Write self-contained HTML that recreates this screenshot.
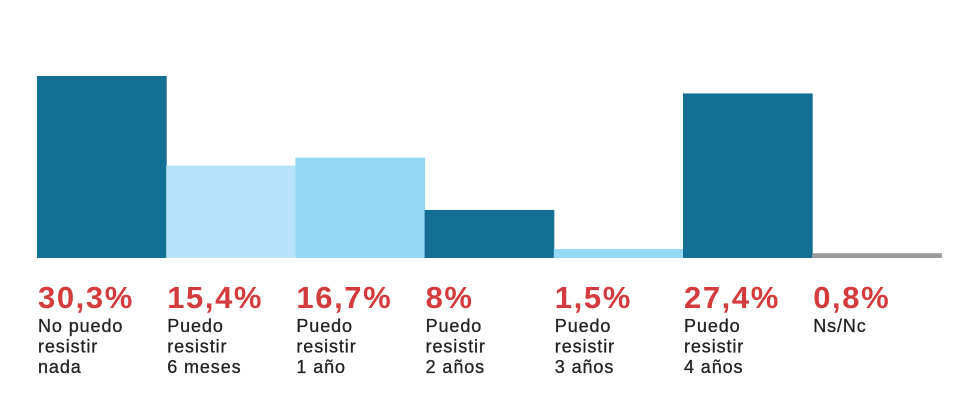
<!DOCTYPE html>
<html><head><meta charset="utf-8"><style>
body{margin:0;background:#fff;width:970px;height:401px;overflow:hidden;font-family:"Liberation Sans",sans-serif}
svg{display:block}
</style></head><body>
<svg id="chart" width="970" height="401"></svg>
<script>
const categories=[["No puedo","resistir","nada"],["Puedo","resistir","6 meses"],["Puedo","resistir","1 año"],["Puedo","resistir","2 años"],["Puedo","resistir","3 años"],["Puedo","resistir","4 años"],["Ns/Nc"]];
const values=[30.3,15.4,16.7,8,1.5,27.4,0.8];
const valueLabels=["30,3%","15,4%","16,7%","8%","1,5%","27,4%","0,8%"];
const colors=["#156e93","#b6e3f8","#95d8f5","#156e93","#95d8f5","#156e93","#9a9b9e"];
const svg=document.getElementById('chart');
const NS="http://www.w3.org/2000/svg";
const x0=37,bw=129.2,base=258,scale=182/30.3;
const xPos=i=>x0+i*bw;
const yPos=v=>base-v*scale;
values.forEach((v,i)=>{
  const r=document.createElementNS(NS,'rect');
  
  
  r.setAttribute('x',xPos(i));r.setAttribute('y',yPos(v));
  r.setAttribute('width',bw+0.5);r.setAttribute('height',base-yPos(v));
  r.setAttribute('fill',colors[i]);svg.appendChild(r);
  const t=document.createElementNS(NS,'text');
  
  
  t.setAttribute('x',xPos(i)+1);t.setAttribute('y',308);
  t.setAttribute('fill','#d33b3d');t.setAttribute('font-size','31');t.setAttribute('font-weight','bold');
  t.setAttribute('letter-spacing','1.6');
  t.textContent=valueLabels[i];svg.appendChild(t);
  categories[i].forEach((line,j)=>{
    const c=document.createElementNS(NS,'text');
    
    
    c.setAttribute('x',xPos(i)+1);c.setAttribute('y',332+j*20.5);
    c.setAttribute('fill','#222');c.setAttribute('font-size','18');
    c.setAttribute('letter-spacing','0.9');
    c.setAttribute('stroke','#222');c.setAttribute('stroke-width','0.3');
    c.textContent=line;svg.appendChild(c);
  });
});
</script>
</body></html>
